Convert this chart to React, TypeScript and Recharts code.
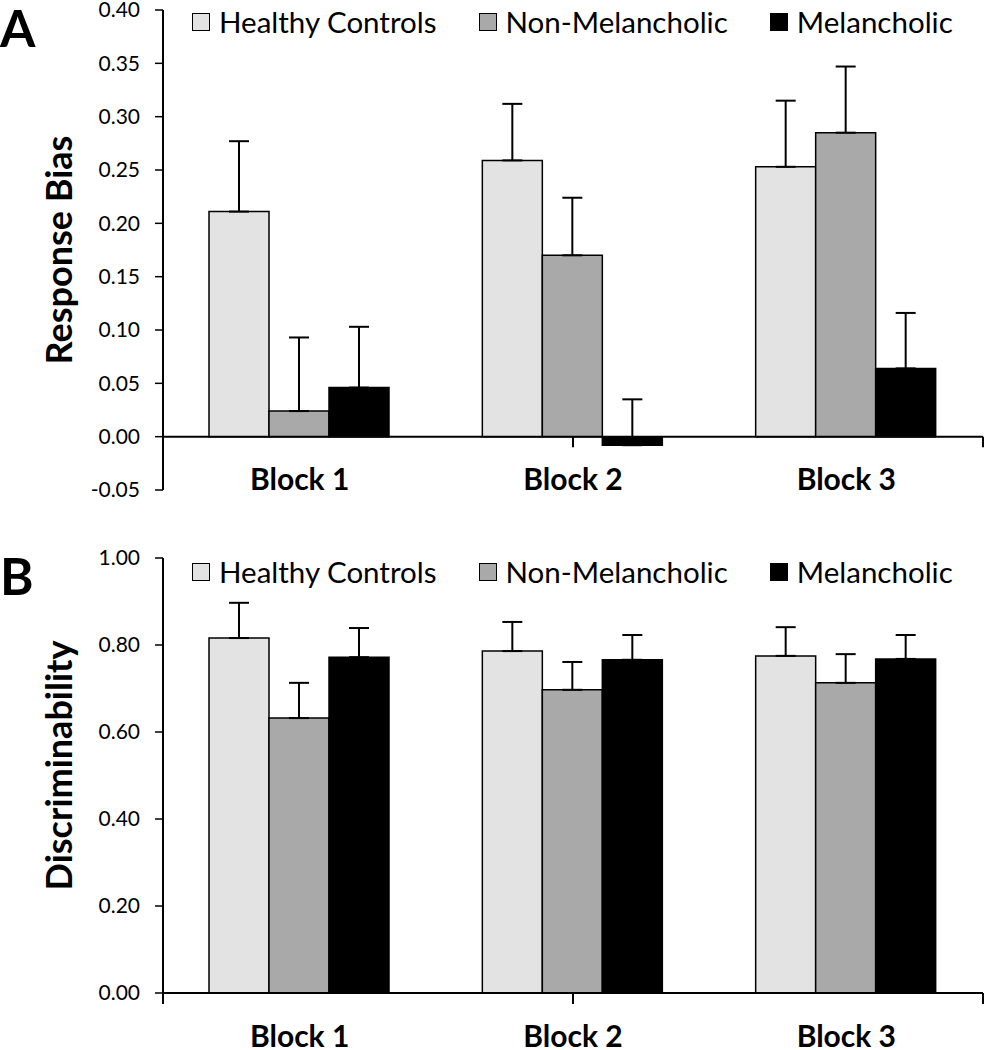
import React from 'react';
import { BarChart, Bar, XAxis, YAxis, ErrorBar, ReferenceLine, Legend } from 'recharts';

const FONT = 'Lato, "Open Sans", sans-serif';

const BLOCKS = ['Block 1', 'Block 2', 'Block 3'];
const GROUPS = ['Healthy Controls', 'Non-Melancholic', 'Melancholic'];
const GROUP_KEYS = ['hc', 'nm', 'mel'];
const GROUP_FILLS = ['#e3e3e3', '#a9a9a9', '#000000'];
// category boundaries (0..3) where the x axis has its tick marks
const BLOCK_EDGES = [0, 1, 2, 3];

// Panel A: response bias, mean and upper SEM
const BIAS_HC = [0.211, 0.259, 0.253];
const BIAS_HC_ERR = [0.066, 0.053, 0.062];
const BIAS_NM = [0.024, 0.17, 0.285];
const BIAS_NM_ERR = [0.069, 0.054, 0.062];
const BIAS_MEL = [0.046, -0.008, 0.064];
const BIAS_MEL_ERR = [0.057, 0.043, 0.052];
const BIAS_TICKS = [-0.05, 0, 0.05, 0.1, 0.15, 0.2, 0.25, 0.3, 0.35, 0.4];

// Panel B: discriminability, mean and upper SEM
const DISC_HC = [0.816, 0.786, 0.775];
const DISC_HC_ERR = [0.081, 0.067, 0.066];
const DISC_NM = [0.632, 0.697, 0.713];
const DISC_NM_ERR = [0.081, 0.064, 0.066];
const DISC_MEL = [0.772, 0.766, 0.768];
const DISC_MEL_ERR = [0.067, 0.057, 0.055];
const DISC_TICKS = [0, 0.2, 0.4, 0.6, 0.8, 1.0];

function buildRows(
  hc: number[], hcErr: number[],
  nm: number[], nmErr: number[],
  mel: number[], melErr: number[],
) {
  // error bars only go upward, so the lower error is 0
  return BLOCKS.map((block, i) => ({
    block,
    hc: hc[i], hcErr: [0, hcErr[i]],
    nm: nm[i], nmErr: [0, nmErr[i]],
    mel: mel[i], melErr: [0, melErr[i]],
  }));
}

const biasRows = buildRows(BIAS_HC, BIAS_HC_ERR, BIAS_NM, BIAS_NM_ERR, BIAS_MEL, BIAS_MEL_ERR);
const discRows = buildRows(DISC_HC, DISC_HC_ERR, DISC_NM, DISC_NM_ERR, DISC_MEL, DISC_MEL_ERR);

function GroupLegend() {
  return (
    <div
      style={{
        display: 'flex',
        alignItems: 'center',
        gap: 42,
        fontFamily: FONT,
        fontSize: 29.5,
        lineHeight: 1.2,
        color: '#000',
        whiteSpace: 'nowrap',
      }}
    >
      {GROUPS.map((g, i) => (
        <div key={g} style={{ display: 'flex', alignItems: 'center' }}>
          <span
            style={{
              display: 'inline-block',
              width: 18,
              height: 18,
              boxSizing: 'border-box',
              border: '1.5px solid #000',
              background: GROUP_FILLS[i],
              marginRight: 9,
            }}
          />
          <span>{g}</span>
        </div>
      ))}
    </div>
  );
}

function BlockTick(props: any) {
  const { x, y, payload, dy } = props;
  return (
    <text x={x} y={y + dy} textAnchor="middle" fontFamily={FONT} fontWeight={700} fontSize={30} fill="#000">
      {payload.value}
    </text>
  );
}

function AxisTitle(props: any) {
  const { viewBox, text, shift, size } = props;
  const x = viewBox.x + 72;
  const y = viewBox.y + viewBox.height / 2 + shift;
  return (
    <text
      x={x}
      y={y}
      transform={`rotate(-90, ${x}, ${y})`}
      textAnchor="middle"
      fontFamily={FONT}
      fontWeight={700}
      fontSize={size}
      fill="#000"
    >
      {text}
    </text>
  );
}

interface PanelProps {
  rows: any[];
  height: number;
  top: number;
  domain: [number, number];
  ticks: number[];
  title: string;
  titleShift: number;
  titleSize: number;
  legendTop: number;
  axisHeight: number;
  labelDy: number;
  edgeDepth: number;
  zeroAxis: boolean;
}

function Panel(p: PanelProps) {
  return (
    <BarChart
      width={984}
      height={p.height}
      data={p.rows}
      margin={{ top: p.top, right: 1, bottom: 0, left: 0 }}
      barGap={0}
      barCategoryGap={46}
    >
      <XAxis
        dataKey="block"
        height={p.axisHeight}
        axisLine={p.zeroAxis ? false : { stroke: '#000', strokeWidth: 2 }}
        tickLine={false}
        tickSize={0}
        tickMargin={0}
        interval={0}
        tick={(t: any) => <BlockTick {...t} dy={p.labelDy} />}
      />
      <XAxis xAxisId="edges" type="number" domain={[0, 3]} allowDataOverflow hide />
      <YAxis
        domain={p.domain}
        ticks={p.ticks}
        interval={0}
        allowDataOverflow
        width={163}
        tickFormatter={(v: number) => v.toFixed(2)}
        axisLine={{ stroke: '#000', strokeWidth: 2 }}
        tickLine={{ stroke: '#000', strokeWidth: 1.5 }}
        tickSize={8}
        tickMargin={15}
        tick={{ fill: '#000', fontSize: 21, fontFamily: FONT }}
        label={<AxisTitle text={p.title} shift={p.titleShift} size={p.titleSize} />}
      />
      <Legend
        verticalAlign="middle"
        align="center"
        layout="horizontal"
        wrapperStyle={{ top: p.legendTop, left: 192, width: 'auto', height: 'auto' }}
        content={() => <GroupLegend />}
      />
      {p.zeroAxis && <ReferenceLine y={0} stroke="#000" strokeWidth={2} />}
      {BLOCK_EDGES.map((e) => (
        <ReferenceLine
          key={e}
          xAxisId="edges"
          segment={[{ x: e, y: 0 }, { x: e, y: -p.edgeDepth }]}
          stroke="#000"
          strokeWidth={2}
          ifOverflow="visible"
        />
      ))}
      {GROUP_KEYS.map((k, i) => (
        <Bar
          key={k}
          dataKey={k}
          name={GROUPS[i]}
          fill={GROUP_FILLS[i]}
          stroke="#000"
          strokeWidth={1.5}
          isAnimationActive={false}
        >
          <ErrorBar dataKey={`${k}Err`} width={10} stroke="#000" strokeWidth={2} direction="y" />
        </Bar>
      ))}
    </BarChart>
  );
}

export default function App() {
  return (
    <div style={{ position: 'absolute', left: 0, top: 0, width: 984, height: 1050, background: '#fff' }}>
      <div style={{ position: 'absolute', left: 0, top: 0 }}>
        <Panel
          rows={biasRows}
          height={530}
          top={10}
          domain={[-0.05, 0.4]}
          ticks={BIAS_TICKS}
          title="Response Bias"
          titleShift={0}
          titleSize={36}
          legendTop={4}
          axisHeight={40}
          labelDy={0}
          edgeDepth={0.01}
          zeroAxis
        />
      </div>
      <div style={{ position: 'absolute', left: 0, top: 530 }}>
        <Panel
          rows={discRows}
          height={520}
          top={28}
          domain={[0, 1]}
          ticks={DISC_TICKS}
          title="Discriminability"
          titleShift={-10}
          titleSize={36}
          legendTop={24}
          axisHeight={57}
          labelDy={54}
          edgeDepth={0.025}
          zeroAxis={false}
        />
      </div>
      <svg width={984} height={1050} style={{ position: 'absolute', left: 0, top: 0, pointerEvents: 'none' }}>
        <text x={0} y={47} fontFamily={FONT} fontWeight={700} fontSize={51} fill="#000">A</text>
        <text x={0} y={595} fontFamily={FONT} fontWeight={700} fontSize={51} fill="#000">B</text>
      </svg>
    </div>
  );
}
